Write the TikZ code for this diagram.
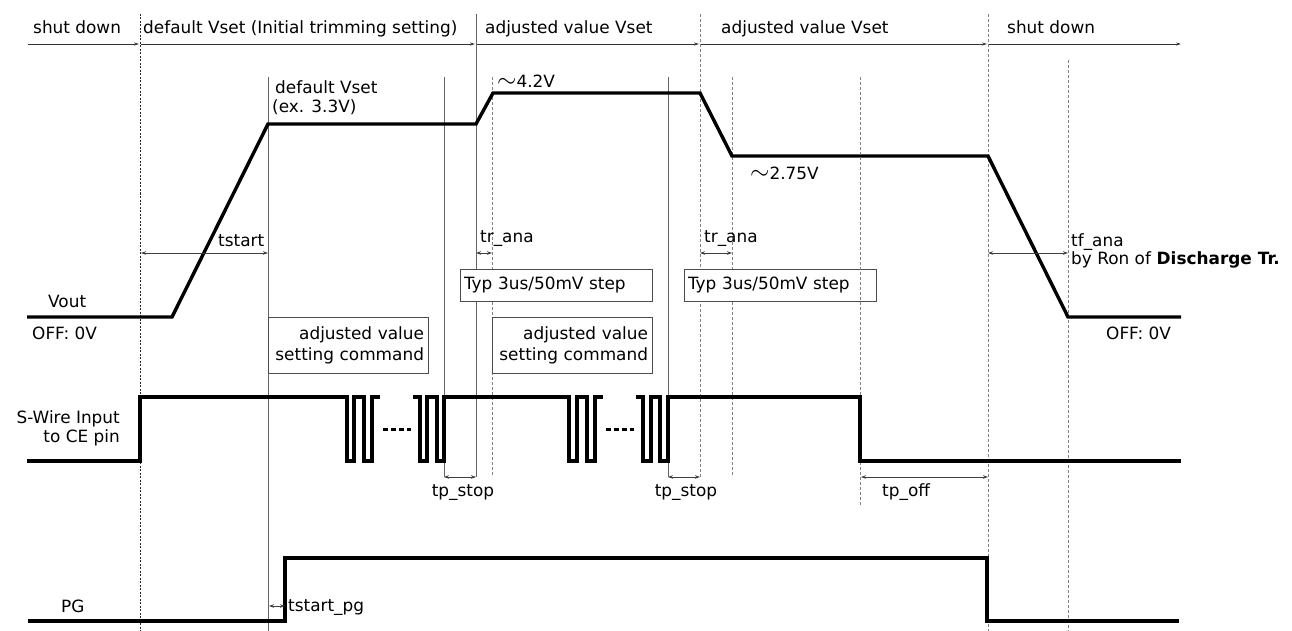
\documentclass[tikz,border=0pt]{standalone}
\usepackage{fontspec}
\setmainfont{DejaVu Sans}
\usetikzlibrary{arrows.meta}
\newcommand{\bigtilde}{{\fontsize{25}{25}\selectfont$\sim$}}
\begin{document}
\begin{tikzpicture}[x=1pt,y=-1pt,
  every node/.style={font=\fontsize{16.9}{21}\selectfont, inner sep=0pt, text=black},
  lbl/.style={anchor=base west},
  lble/.style={anchor=base east},
  wave/.style={line width=3.4pt, line join=miter, black},
  thinsolid/.style={line width=0.8pt, black!60},
  thindash/.style={line width=0.9pt, black!50, dash pattern=on 3pt off 2pt},
  finedash/.style={line width=0.8pt, black!85, dash pattern=on 2pt off 1.5pt},
  dimarrow/.style={line width=0.8pt, black!75, {Stealth[length=5pt,width=3.5pt]}-{Stealth[length=5pt,width=3.5pt]}},
  toparrow/.style={line width=0.8pt, black!80, -{Stealth[length=5pt,width=3pt]}},
  boxnode/.style={draw=black!70, fill=white, line width=0.8pt, inner xsep=4pt, inner ysep=0pt},
  dotsline/.style={line width=3pt, black, dash pattern=on 5pt off 3pt},
]
\useasboundingbox (0,0) rectangle (1292,631);

% ---- guide lines ----
\draw[finedash] (140,14) -- (140,631);
\draw[thinsolid] (268,77) -- (268,631);
\draw[thinsolid] (444,77) -- (444,477);
\draw[thinsolid] (476,14) -- (476,477);
\draw[thindash] (492,77) -- (492,477);
\draw[thinsolid] (668,77) -- (668,477);
\draw[thindash] (700,14) -- (700,477);
\draw[thindash] (732,77) -- (732,477);
\draw[thindash] (988,14) -- (988,631);
\draw[thindash] (1068,60) -- (1068,631);

% ---- top phase arrows ----
\draw[toparrow] (28,44) -- (139,44);
\draw[toparrow] (141,44) -- (475,44);
\draw[toparrow] (477,44) -- (699,44);
\draw[toparrow] (701,44) -- (987,44);
\draw[toparrow] (989,44) -- (1181,44);
\node[lbl] (ph1) at (33,34) {shut down};
\node[lbl] (ph2) at (143,34) {default Vset (Initial trimming setting)};
\node[lbl] (ph3) at (485,34) {adjusted value Vset};
\node[lbl] (ph4) at (721,34) {adjusted value Vset};
\node[lbl] (ph5) at (1007,34) {shut down};

% ---- Vout ----
\draw[wave] (27,317) -- (172,317) -- (268,124) -- (476,124) -- (493,93) -- (700,93)
  -- (732,156) -- (988,156) -- (1068,317) -- (1181,317);
\node[lbl] (vout) at (48,307) {Vout};
\node[lbl] (off1) at (32,339) {OFF: 0V};
\node[lbl] (off2) at (1106,339) {OFF: 0V};
\node[lbl] (dv1) at (275,94) {default Vset};
\node[lbl] (dv2) at (272,113) {(ex. 3.3V)};
\node[lbl] (v42) at (497,88) {\bigtilde4.2V};
\node[lbl] (v275) at (750,179) {\bigtilde2.75V};

% ---- dimension arrows (Vout) ----
\draw[dimarrow] (141,253) -- (268,253);
\node[lbl] (tstart) at (218,246) {tstart};
\draw[dimarrow] (476,253) -- (492,253);
\node[lbl] (tra1) at (480,242) {tr\_ana};
\draw[dimarrow] (700,253) -- (732,253);
\node[lbl] (tra2) at (704,242) {tr\_ana};
\draw[dimarrow] (988,253) -- (1068,253);
\node[lbl] (tfa) at (1071,246) {tf\_ana};
\node[lbl] (ron) at (1071,264) {by Ron of \textbf{Discharge Tr.}};

% ---- boxes ----
\node[boxnode, minimum height=32pt, text width=184pt, align=left] (typ1) at (556,285) {Typ 3us/50mV step};
\node[boxnode, minimum height=32pt, text width=184pt, align=left] (typ2) at (780,285) {Typ 3us/50mV step};
\node[boxnode, minimum height=56pt, text width=152pt, align=right] (cmd1) at (348,345) {adjusted value\\setting command};
\node[boxnode, minimum height=56pt, text width=152pt, align=right] (cmd2) at (572,345) {adjusted value\\setting command};
\draw[thindash] (860,77) -- (860,505);

% ---- S-Wire ----
\draw[wave] (27,461) -- (140,461) -- (140,397) -- (347,397) -- (347,461) -- (354,461) -- (354,397)
  -- (364,397) -- (364,461) -- (372,461) -- (372,397) -- (380,397);
\draw[dotsline] (383,429) -- (411,429);
\draw[wave] (413,397) -- (420,397) -- (420,461) -- (427,461) -- (427,397) -- (437,397) -- (437,461)
  -- (444,461) -- (444,397) -- (569,397) -- (569,461) -- (577,461) -- (577,397) -- (587,397)
  -- (587,461) -- (595,461) -- (595,397) -- (603,397);
\draw[dotsline] (606,429) -- (634,429);
\draw[wave] (636,397) -- (643,397) -- (643,461) -- (651,461) -- (651,397) -- (660,397) -- (660,461)
  -- (668,461) -- (668,397) -- (860,397) -- (860,461) -- (1181,461);
\node[lble] (sw1) at (120,423) {S-Wire Input};
\node[lble] (sw2) at (120,442) {to CE pin};

\draw[dimarrow] (444,477) -- (476,477);
\node[anchor=base] (tps1) at (463,496) {tp\_stop};
\draw[dimarrow] (668,477) -- (700,477);
\node[anchor=base] (tps2) at (686,496) {tp\_stop};
\draw[dimarrow] (861,477) -- (988,477);
\node[lbl] (tpoff) at (882,496) {tp\_off};

% ---- PG ----
\draw[wave] (28,621) -- (285,621) -- (285,558) -- (987,558) -- (987,621) -- (1179,621);
\node[lbl] (pg) at (61,612) {PG};
\draw[dimarrow] (269,606) -- (285,606);
\node[lbl] (tspg) at (288,611) {tstart\_pg};
\end{tikzpicture}
\end{document}
